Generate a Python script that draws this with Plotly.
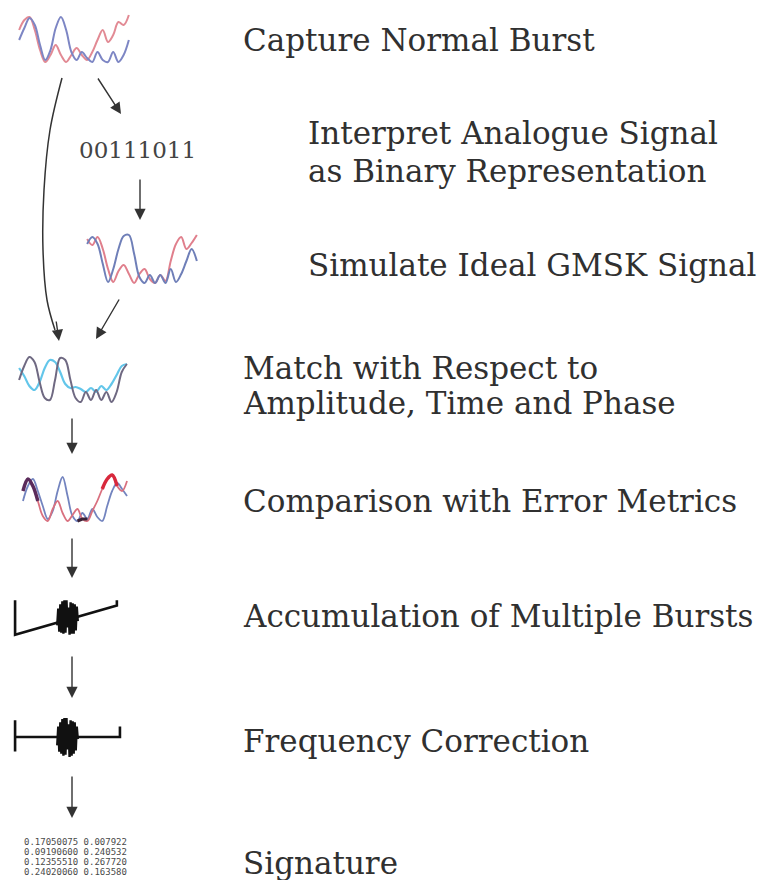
import plotly.graph_objects as go

W, H = 766, 880

# ---- step labels (text) ----
step_labels = [
    "Capture Normal Burst",
    "Interpret Analogue Signal",
    "as Binary Representation",
    "Simulate Ideal GMSK Signal",
    "Match with Respect to",
    "Amplitude, Time and Phase",
    "Comparison with Error Metrics",
    "Accumulation of Multiple Bursts",
    "Frequency Correction",
    "Signature",
]
binary_text = "00111011"
signature_rows = [
    "0.17050075 0.007922",
    "0.09190600 0.240532",
    "0.12355510 0.267720",
    "0.24020060 0.163580",
]

# ---- waveform glyph samples (local heights, 0 = bottom, 50 = top) ----
capture_blue = [25, 37, 47, 40, 20, 5, 15, 37, 48, 35, 13, 5, 13, 7, 3, 13, 5, 3, 13, 3, 10, 25]
capture_red = [35, 45, 48, 35, 15, 3, 10, 20, 10, 3, 10, 17, 10, 5, 13, 25, 35, 23, 30, 43, 40, 50]
sim_blue = [42, 49, 42, 22, 4, 17, 37, 50, 51, 32, 9, 3, 11, 3, 11, 3, 17, 4, 12, 25, 37, 25]
sim_red = [47, 41, 49, 37, 17, 4, 15, 21, 12, 3, 12, 17, 7, 3, 11, 5, 25, 42, 49, 37, 43, 51]
match_dark = [25, 39, 48, 43, 23, 7, 5, 25, 47, 45, 25, 7, 3, 13, 5, 15, 5, 13, 3, 13, 33, 41]
match_cyan = [37, 29, 19, 15, 23, 37, 45, 43, 33, 21, 17, 18, 16, 13, 17, 13, 19, 15, 21, 30, 39, 41]
comp_blue = [22, 37, 44, 32, 17, 4, 12, 32, 46, 27, 7, 2, 10, 4, 14, 6, 2, 17, 32, 40, 34, 27]
comp_red = [32, 44, 37, 22, 7, 2, 14, 22, 10, 2, 8, 14, 4, 2, 12, 22, 34, 44, 48, 37, 32, 42]

# ---- accumulated burst glyphs (local units, x 0..107, y 0..42) ----
accum_x = [3, 3, 102, 102]
accum_y = [38, 5, 33, 38]
freq_x = [3, 3, 3, 105, 105]
freq_y = [38, 8, 22, 22, 32]
blob_x = [44, 45, 46, 47, 48, 49, 50, 51, 52, 53, 54, 55, 56, 57, 58, 59, 60, 61, 62, 63, 64]
accum_blob_y = [14, 30, 8, 34, 7, 37, 6, 38, 7, 38, 12, 31, 5, 36, 6, 35, 6, 34, 9, 32, 18]
freq_blob_y = [14, 32, 8, 36, 6, 39, 4, 40, 5, 40, 10, 34, 3, 38, 4, 37, 6, 36, 9, 32, 20]

fig = go.Figure()
layout_axes = {}
ax_count = [1]


def new_axes(px0, px1, py0, py1, xr, yr):
    ax_count[0] += 1
    n = ax_count[0]
    layout_axes[f"xaxis{n}"] = dict(domain=[px0 / W, px1 / W], range=xr, visible=False,
                                    fixedrange=True, anchor=f"y{n}")
    layout_axes[f"yaxis{n}"] = dict(domain=[1 - py1 / H, 1 - py0 / H], range=yr, visible=False,
                                    fixedrange=True, anchor=f"x{n}")
    return f"x{n}", f"y{n}"


def wave(series_list, box):
    px0, px1, py0, py1 = box
    n = len(series_list[0][0]) - 1
    xa, ya = new_axes(px0, px1, py0, py1, [-0.6, n + 0.6], [-3, 53])
    for ys, color, width in series_list:
        fig.add_trace(go.Scatter(x=list(range(len(ys))), y=ys, mode="lines",
                                 line=dict(color=color, width=width, shape="spline", smoothing=1.0),
                                 xaxis=xa, yaxis=ya, hoverinfo="skip", showlegend=False))
    return xa, ya


# Capture Normal Burst glyph
wave([(capture_red, "#e28a94", 2.0), (capture_blue, "#7d86c4", 2.0)], (16, 132, 12, 68))
# Simulated ideal GMSK glyph
wave([(sim_red, "#e07f8c", 2.0), (sim_blue, "#6f7fb8", 2.0)], (84, 200, 233, 289))
# Match glyph
wave([(match_cyan, "#63c6ea", 2.2), (match_dark, "#6f6982", 2.0)], (16, 130, 352, 408))
# Comparison glyph
cx, cy = wave([(comp_blue, "#7384bf", 1.8), (comp_red, "#d9707f", 1.8)], (20, 130, 470, 526))
fig.add_trace(go.Scatter(x=[0, 1, 2, 3], y=comp_red[0:4], mode="lines",
                         line=dict(color="#5a2a5a", width=3.5, shape="spline"),
                         xaxis=cx, yaxis=cy, hoverinfo="skip", showlegend=False))
fig.add_trace(go.Scatter(x=[16, 17, 18, 19], y=comp_red[16:20], mode="lines",
                         line=dict(color="#d8283c", width=3.5, shape="spline"),
                         xaxis=cx, yaxis=cy, hoverinfo="skip", showlegend=False))
fig.add_trace(go.Scatter(x=[11, 12, 13], y=[comp_blue[11], comp_red[12], comp_blue[13]], mode="lines",
                         line=dict(color="#3a2236", width=3),
                         xaxis=cx, yaxis=cy, hoverinfo="skip", showlegend=False))

# Accumulation glyph
ax5, ay5 = new_axes(12, 122, 596, 640, [0, 107], [0, 42])
fig.add_trace(go.Scatter(x=accum_x, y=accum_y, mode="lines", line=dict(color="#111", width=2.6),
                         xaxis=ax5, yaxis=ay5, hoverinfo="skip", showlegend=False))
fig.add_trace(go.Scatter(x=blob_x, y=accum_blob_y, mode="lines", line=dict(color="#111", width=2.4),
                         xaxis=ax5, yaxis=ay5, hoverinfo="skip", showlegend=False))
# Frequency correction glyph
ax6, ay6 = new_axes(12, 122, 716, 760, [0, 107], [0, 42])
fig.add_trace(go.Scatter(x=freq_x, y=freq_y, mode="lines", line=dict(color="#111", width=2.6),
                         xaxis=ax6, yaxis=ay6, hoverinfo="skip", showlegend=False))
fig.add_trace(go.Scatter(x=blob_x, y=freq_blob_y, mode="lines", line=dict(color="#111", width=2.4),
                         xaxis=ax6, yaxis=ay6, hoverinfo="skip", showlegend=False))

# Curved arrow (main canvas axis in pixel units)
curve_x = [62, 50, 44, 43, 47, 55]
curve_y = [78, 130, 190, 250, 300, 330]
fig.add_trace(go.Scatter(x=curve_x, y=curve_y, mode="lines",
                         line=dict(color="#333", width=1.5, shape="spline"),
                         xaxis="x", yaxis="y", hoverinfo="skip", showlegend=False))

annotations = []
font_main = dict(family="DejaVu Serif", size=31, color="#303030")
label_pos = [(241, 40), (306, 133), (306, 171), (306, 265), (241, 368), (241, 403),
             (241, 501), (241, 616), (241, 741), (241, 863)]
for txt, (lx, ly) in zip(step_labels, label_pos):
    annotations.append(dict(text=txt, x=lx, y=ly, xref="x", yref="y", xanchor="left",
                            yanchor="middle", showarrow=False, font=font_main))

annotations.append(dict(text=binary_text, x=137, y=150, xref="x", yref="y", xanchor="center",
                        yanchor="middle", showarrow=False,
                        font=dict(family="DejaVu Serif", size=23, color="#444")))

for i, row in enumerate(signature_rows):
    annotations.append(dict(text=row, x=75, y=842 + 10 * i, xref="x", yref="y", xanchor="center",
                            yanchor="middle", showarrow=False,
                            font=dict(family="DejaVu Sans Mono", size=9, color="#4a4a4a")))

arrows = [
    ((56, 320), (59, 341)),
    ((97, 77), (121, 114)),
    ((140, 178), (140, 220)),
    ((120, 298), (96, 339)),
    ((72, 417), (72, 454)),
    ((72, 537), (72, 578)),
    ((72, 655), (72, 698)),
    ((72, 775), (72, 818)),
]
for (x0, y0), (x1, y1) in arrows:
    annotations.append(dict(x=x1, y=y1, ax=x0, ay=y0, xref="x", yref="y", axref="x", ayref="y",
                            text="", showarrow=True, arrowhead=2, arrowsize=1.6, arrowwidth=1.4,
                            arrowcolor="#333", standoff=0, startstandoff=0))

fig.update_layout(
    width=W, height=H,
    margin=dict(l=0, r=0, t=0, b=0),
    paper_bgcolor="white", plot_bgcolor="rgba(0,0,0,0)",
    xaxis=dict(domain=[0, 1], range=[0, W], visible=False, fixedrange=True),
    yaxis=dict(domain=[0, 1], range=[H, 0], visible=False, fixedrange=True),
    annotations=annotations,
    showlegend=False,
    **layout_axes,
)
fig.write_html("out.html", config={"displayModeBar": False},
               post_script="document.body.style.margin='0';document.body.style.overflow='hidden';")
